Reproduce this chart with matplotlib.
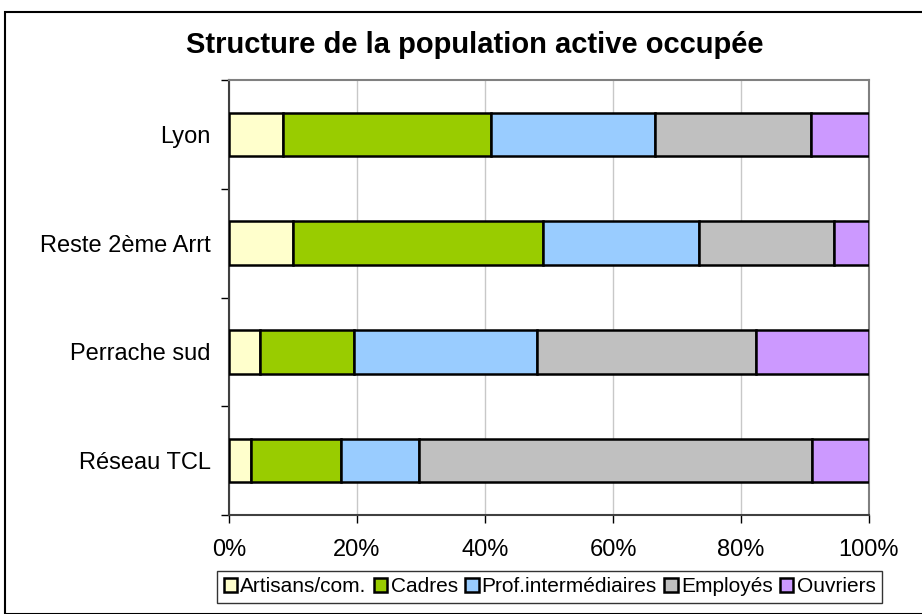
import numpy as np
import matplotlib.pyplot as plt
from matplotlib.patches import Rectangle
from matplotlib.ticker import FixedLocator

plt.rcParams['font.family'] = ['Liberation Sans', 'DejaVu Sans']

# zones, top to bottom
zones = ['Lyon', 'Reste 2ème Arrt', 'Perrache sud', 'Réseau TCL']
categories = ['Artisans/com.', 'Cadres', 'Prof.intermédiaires', 'Employés', 'Ouvriers']
colors = ['#FFFFCC', '#99CC00', '#99CCFF', '#C0C0C0', '#CC99FF']

# shares in % per zone
artisans = [8.4, 10.0, 4.8, 3.4]
cadres = [32.5, 39.1, 14.7, 14.1]
prof_inter = [25.7, 24.3, 28.6, 12.2]
employes = [24.3, 21.1, 34.2, 61.4]
ouvriers = [9.1, 5.5, 17.7, 8.9]
series = [artisans, cadres, prof_inter, employes, ouvriers]

fig = plt.figure(figsize=(9.22, 6.14), dpi=100)
ax = fig.add_axes([0.2484, 0.1612, 0.6941, 0.7085])

y = np.arange(len(zones))[::-1]
left = np.zeros(len(zones))
for name, vals, col in zip(categories, series, colors):
    ax.barh(y, vals, left=left, height=0.4, color=col, edgecolor='black',
            linewidth=1.8, label=name, zorder=3)
    left += np.array(vals)

ax.set_xlim(0, 100)
ax.set_ylim(-0.5, len(zones) - 0.5)
ax.set_xticks(np.arange(0, 101, 20))
ax.set_xticklabels([f'{v}%' for v in range(0, 101, 20)], fontsize=17)
ax.set_yticks(y)
ax.set_yticklabels(zones, fontsize=17)
ax.yaxis.set_minor_locator(FixedLocator(np.arange(-0.5, len(zones), 1)))
ax.tick_params(axis='y', which='major', length=0, pad=13)
ax.tick_params(axis='y', which='minor', length=6, direction='out', width=1)
ax.tick_params(axis='x', length=6, direction='out', width=1, pad=11)
ax.grid(axis='x', color='#c8c8c8', linewidth=1, zorder=0)
for s in ['top', 'right']:
    ax.spines[s].set_color('#808080')
    ax.spines[s].set_linewidth(1.5)
for s in ['left', 'bottom']:
    ax.spines[s].set_color('#404040')
    ax.spines[s].set_linewidth(1.5)

fig.suptitle('Structure de la population active occupée', x=0.515, y=0.95,
             fontsize=21, fontweight='bold')

leg = fig.legend(loc='center', bbox_to_anchor=(0.596, 0.044), ncol=5,
                 fontsize=15, frameon=True, fancybox=False, edgecolor='black',
                 handlelength=0.65, handleheight=0.65, handletextpad=0.15,
                 columnspacing=0.35, borderpad=0.3, borderaxespad=0)
leg.get_frame().set_linewidth(1)

fig.patches.append(Rectangle((5 / 922, 0), 1, 1 - 12 / 614, transform=fig.transFigure,
                             fill=False, edgecolor='black', linewidth=1.5))

fig.savefig('out.png', dpi=100)
